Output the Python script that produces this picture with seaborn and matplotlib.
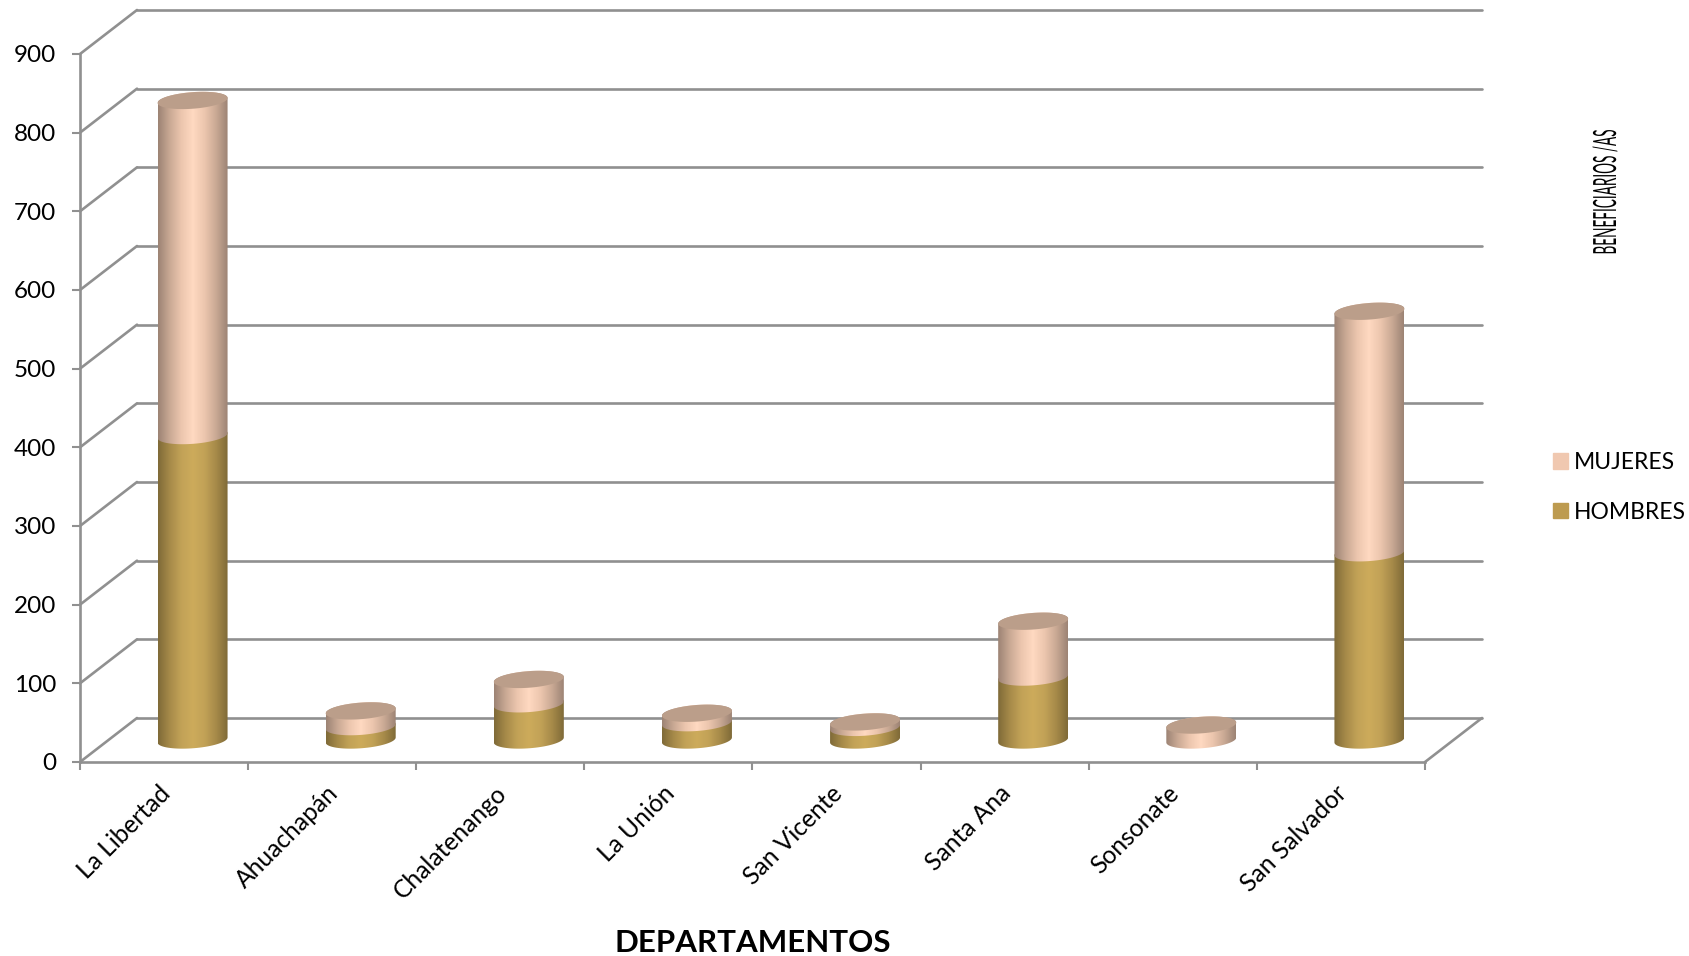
import numpy as np
import pandas as pd
import matplotlib
matplotlib.use("Agg")
import matplotlib.pyplot as plt
import matplotlib.patheffects as pe
from matplotlib.colors import LinearSegmentedColormap
from matplotlib.patches import Patch, PathPatch
from matplotlib.path import Path
from matplotlib.transforms import Affine2D, IdentityTransform, ScaledTranslation
import seaborn as sb

departamentos = ["La Libertad", "Ahuachapán", "Chalatenango", "La Unión",
                 "San Vicente", "Santa Ana", "Sonsonate", "San Salvador"]
hombres = [387, 17, 46, 22, 16, 80, 0, 238]
mujeres = [426, 20, 31, 12, 7, 71, 19, 307]
y_ticks = [0, 100, 200, 300, 400, 500, 600, 700, 800, 900]

W, H = 1690, 956
GRID = "#909090"
C_MUJERES = "#f0c8b0"
C_HOMBRES = "#bd9b50"

# floor / wall offset in pixels, bars stand half way back
DX, DY = 57, 44
RX, RY, TILT = 35, 8.3, 2.5

cmap_m = LinearSegmentedColormap.from_list(
    "m", ["#9c8374", "#c9a994", "#ecc6ae", "#ffd9c1", "#ecc6ae", "#c9a994", "#9c8374"])
cmap_h = LinearSegmentedColormap.from_list(
    "h", ["#7f6a38", "#a68a49", "#c2a257", "#cdab5b", "#c2a257", "#a68a49", "#7f6a38"])


def rect(x0, x1, ytop, ybot):
    return [x0 / W, 1 - ybot / H, (x1 - x0) / W, (ybot - ytop) / H]


class Squeeze(pe.AbstractPathEffect):
    # narrow condensed look of the axis title, keeps it a normal text object
    def __init__(self, y0, fy):
        super().__init__()
        self.y0, self.fy = y0, fy

    def draw_path(self, renderer, gc, tpath, affine, rgbFace=None):
        sq = Affine2D().translate(0, -self.y0).scale(1, self.fy).translate(0, self.y0)
        renderer.draw_path(gc, tpath, affine + sq, rgbFace)


def segment(ax, cx, y_low, y_high, cmap):
    t = np.linspace(np.pi, 2 * np.pi, 40)
    low = np.column_stack([cx + RX * np.cos(t), y_low + RY * np.sin(t) + TILT * np.cos(t)])
    t = np.linspace(0, np.pi, 40)
    up = np.column_stack([cx + RX * np.cos(t), y_high + RY * np.sin(t) + TILT * np.cos(t)])
    outline = Path(np.vstack([low, up, low[:1]]), closed=True)
    im = ax.imshow(np.linspace(0, 1, 256)[None, :], cmap=cmap, aspect="auto",
                   extent=(cx - RX, cx + RX, y_low - 2 * RY, y_high + 2 * RY),
                   transform=IdentityTransform(), zorder=3, interpolation="bilinear")
    im.set_clip_box(ax.figure.bbox)
    im.set_clip_path(outline, IdentityTransform())


def cap(ax, cx, y):
    t = np.linspace(0, 2 * np.pi, 80)
    pts = np.column_stack([cx + RX * np.cos(t), y + RY * np.sin(t) + TILT * np.cos(t)])
    ax.add_patch(PathPatch(Path(pts, closed=True), facecolor="#bb9e8a", edgecolor="none",
                           transform=IdentityTransform(), clip_on=False, zorder=4))


def main():
    sb.set_style("white")
    plt.rcParams["font.family"] = ["Lato", "DejaVu Sans"]

    fig = plt.figure(figsize=(W / 100, H / 100), dpi=100)
    back = fig.add_axes(rect(80 + DX, 1425 + DX, 762 - 708 - DY, 762 - DY))
    ax = fig.add_axes(rect(80, 1425, 54, 762))
    ax.patch.set_alpha(0)

    # back wall grid
    back.set_xlim(0, 1)
    back.set_ylim(0, 900)
    back.set_yticks(y_ticks)
    back.set_xticks([])
    back.set_yticklabels([])
    back.tick_params(left=False)
    back.grid(axis="y", color=GRID, lw=1.9)
    for line in back.get_ygridlines():
        line.set_clip_on(False)
    sb.despine(ax=back, left=True, bottom=True)

    df = pd.DataFrame({"dep": departamentos, "h": hombres, "m": mujeres})
    sb.barplot(data=df, x="dep", y="h", ax=ax, color=C_HOMBRES, width=70 / 168.1)
    sb.barplot(data=df, x="dep", y="m", ax=ax, color=C_MUJERES, width=70 / 168.1, bottom=df["h"])
    n = len(departamentos)
    ax.set_xlim(-0.5, n - 0.5)
    ax.set_ylim(0, 900)
    ax.set_yticks(y_ticks)
    ax.set_ylabel("")
    ax.set_xlabel("DEPARTAMENTOS", fontsize=22.5, fontweight="bold", color="black", labelpad=19)
    ax.set_xticks(list(np.arange(n) - 0.5) + [n - 0.5], minor=True)
    ax.tick_params(axis="x", which="major", length=0, pad=14, labelsize=17.7, labelcolor="black")
    ax.tick_params(axis="x", which="minor", length=6, width=1.5, color=GRID, bottom=True)
    ax.tick_params(axis="y", length=6, width=1.5, color=GRID, pad=11, labelsize=17.5,
                   labelcolor="black", left=True)
    shift = ScaledTranslation(-6 / 100, 0, fig.dpi_scale_trans)
    for lab in ax.get_xticklabels():
        lab.set(rotation=45, ha="right", rotation_mode="anchor",
                transform=lab.get_transform() + shift)
    sb.despine(ax=ax)
    for s in ("left", "bottom"):
        ax.spines[s].set_color(GRID)
        ax.spines[s].set_linewidth(1.9)

    # diagonals between front axis and back wall
    for v in y_ticks:
        p = ax.transData.transform((-0.5, v))
        ax.plot([p[0], p[0] + DX], [p[1], p[1] + DY], color=GRID, lw=1.9,
                transform=IdentityTransform(), clip_on=False, zorder=1)
    p = ax.transData.transform((n - 0.5, 0))
    ax.plot([p[0], p[0] + DX], [p[1], p[1] + DY], color=GRID, lw=1.9,
            transform=IdentityTransform(), clip_on=False, zorder=1)

    # turn the flat seaborn bars into cylinders, moved back to mid depth
    to_px = ax.transData + Affine2D().translate(DX / 2, DY / 2)
    bars = list(ax.patches)
    ax.autoscale(False)
    for i, bar in enumerate(bars):
        bar.set_visible(False)
        if bar.get_height() <= 0:
            continue
        cmap = cmap_h if i < n else cmap_m
        x0, y0 = to_px.transform((bar.get_x(), bar.get_y()))
        x1, y1 = to_px.transform((bar.get_x() + bar.get_width(), bar.get_y() + bar.get_height()))
        segment(ax, (x0 + x1) / 2, y0, y1, cmap)
        if i >= n:
            cap(ax, (x0 + x1) / 2, y1)
    ax.set_xlim(-0.5, n - 0.5)
    ax.set_ylim(0, 900)

    handles = [Patch(color=C_MUJERES, label="MUJERES"), Patch(color=C_HOMBRES, label="HOMBRES")]
    fig.legend(handles=handles, loc="upper left", bbox_to_anchor=(1553 / W, 1 - 452 / H),
               frameon=False, fontsize=16.5, handlelength=0.65, handleheight=0.65,
               handletextpad=0.25, labelspacing=1.25, borderpad=0, borderaxespad=0,
               labelcolor="black")

    fig.text(1607 / W, 1 - 192 / H, "BENEFICIARIOS /AS", rotation=90, ha="center", va="center",
             fontsize=23, color="black",
             path_effects=[Squeeze(H - 192, 0.425)])

    fig.savefig("out.png", dpi=100)


if __name__ == "__main__":
    main()
